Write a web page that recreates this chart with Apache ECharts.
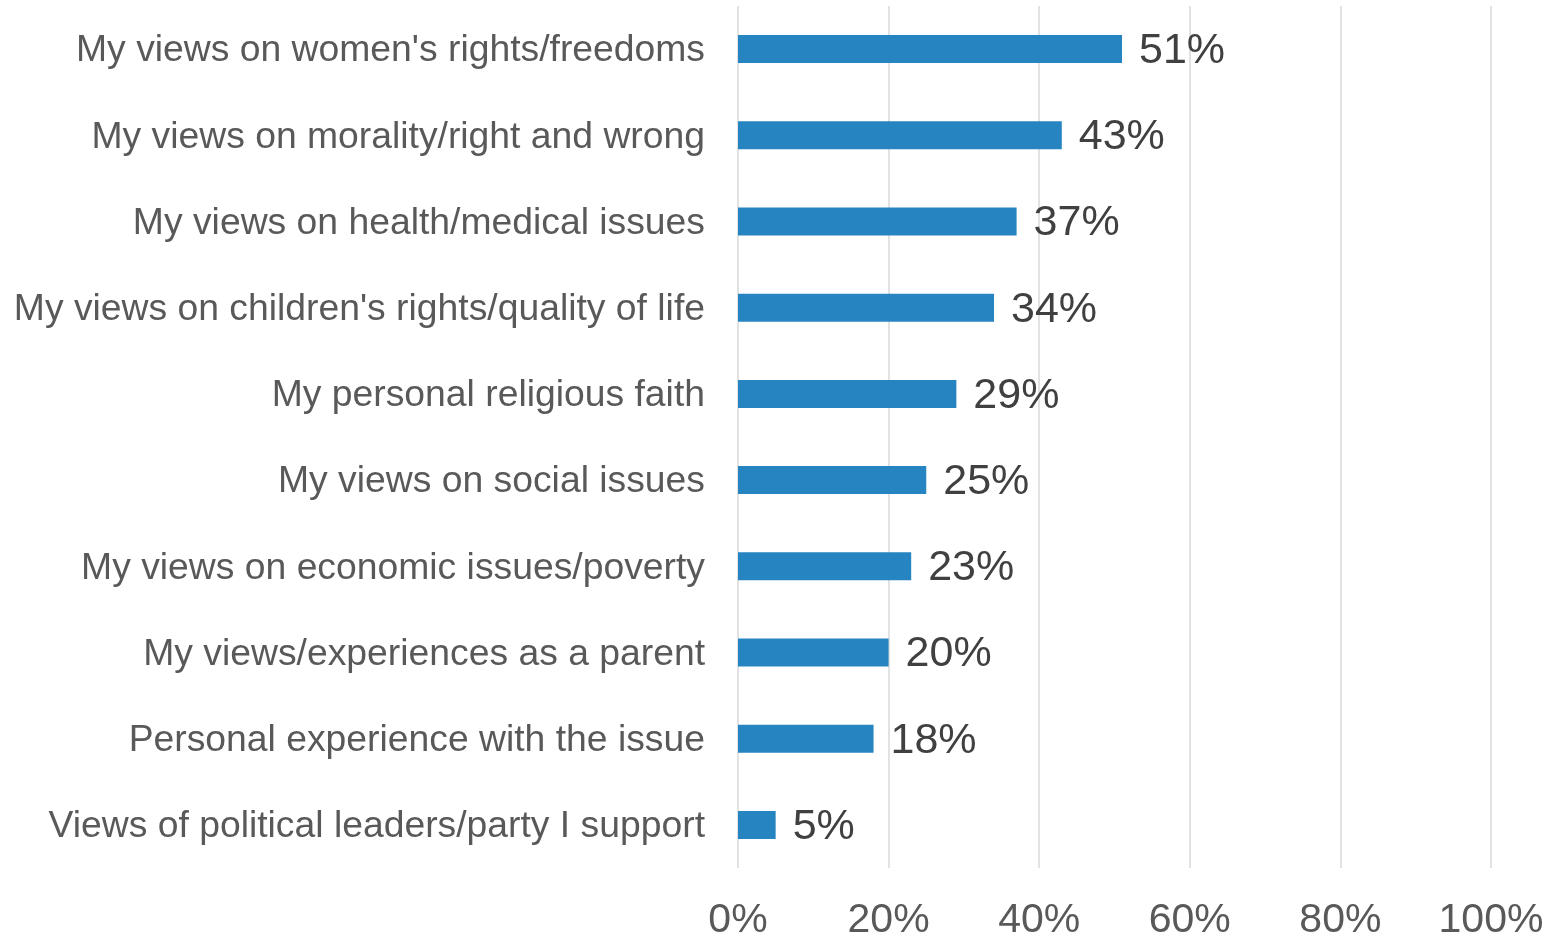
<!DOCTYPE html>
<html>
<head>
<meta charset="utf-8">
<script src="https://cdn.jsdelivr.net/npm/echarts@6/dist/echarts.min.js"></script>
<style>
html,body{margin:0;padding:0;background:#fff;}
#chart{width:1555px;height:937px;}
</style>
</head>
<body>
<div id="chart"></div>
<script>
const categories = [
  "My views on women's rights/freedoms",
  "My views on morality/right and wrong",
  "My views on health/medical issues",
  "My views on children's rights/quality of life",
  "My personal religious faith",
  "My views on social issues",
  "My views on economic issues/poverty",
  "My views/experiences as a parent",
  "Personal experience with the issue",
  "Views of political leaders/party I support"
];
const values = [51, 43, 37, 34, 29, 25, 23, 20, 18, 5];
const tickLabels = ["0%", "20%", "40%", "60%", "80%", "100%"];

const chart = echarts.init(document.getElementById('chart'));
const font = '"Liberation Sans", Arial, sans-serif';
chart.setOption({
  animation: false,
  backgroundColor: '#ffffff',
  grid: { left: 738, right: 64, top: 6, bottom: 69, containLabel: false, outerBoundsMode: 'none' },
  xAxis: {
    type: 'value', min: 0, max: 100, interval: 20,
    axisLine: { show: false }, axisTick: { show: false },
    splitLine: { show: true, lineStyle: { color: '#d9d9d9', width: 1.5 } },
    axisLabel: {
      margin: 32, color: '#595959', fontSize: 41, fontFamily: font,
      formatter: function (v) { return tickLabels[Math.round(v / 20)]; }
    }
  },
  yAxis: {
    type: 'category', data: categories, inverse: true,
    axisLine: { show: false }, axisTick: { show: false },
    axisLabel: {
      margin: 33, color: '#595959', fontSize: 37.3, fontFamily: font,
      formatter: function (v) { return '{a|' + v + '}'; },
      rich: { a: { color: '#595959', fontSize: 37.3, fontFamily: font, padding: [4, 0, 0, 0] } }
    }
  },
  series: [{
    type: 'bar', data: values, barWidth: 28,
    itemStyle: { color: '#2685C0' },
    label: {
      show: true, position: 'right', distance: 17, offset: [0, 2],
      color: '#404040', fontSize: 43, fontFamily: font,
      formatter: function (p) { return p.value + '%'; }
    }
  }]
});
</script>
</body>
</html>
